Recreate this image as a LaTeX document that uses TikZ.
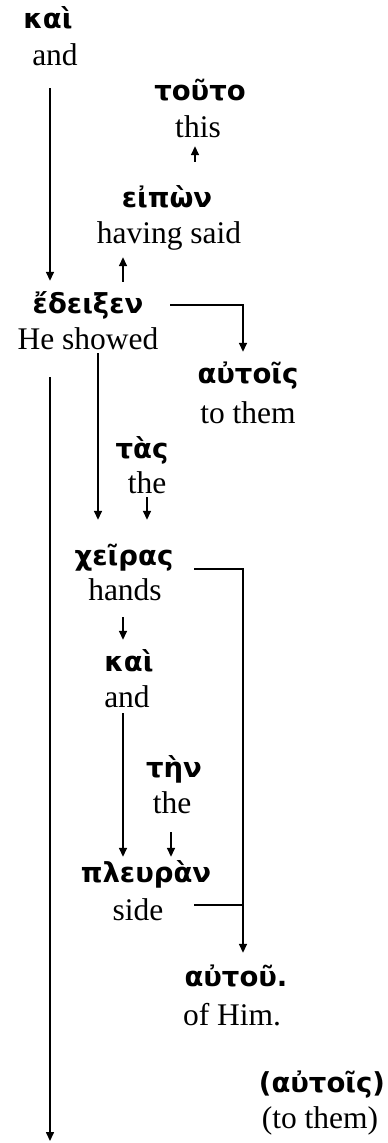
\documentclass[tikz,border=0pt]{standalone}
\usepackage{fontspec}
\setmainfont{Liberation Serif}
\newfontfamily\grk{DejaVu Sans}
\usetikzlibrary{arrows.meta,calc}
\begin{document}
\begin{tikzpicture}[x=1pt,y=-1pt,
  gk/.style={font=\grk\bfseries\fontsize{27.5}{30}\selectfont, inner sep=0pt, text height=22pt, text depth=6pt, anchor=base},
  en/.style={font=\fontsize{31.5}{36}\selectfont, inner sep=0pt, text height=22pt, text depth=3pt, anchor=base},
  ln/.style={line width=1.5pt},
  arr/.style={ln, -{Triangle[length=9pt,width=8pt]}}]
\useasboundingbox (0,0) rectangle (388,1143);
% column positions
\coordinate (x50) at (50,0);
\coordinate (x98) at (98,0);
\coordinate (x123) at (123,0);
\coordinate (x147) at (147,0);
\coordinate (x170) at (170,0);
\coordinate (x171) at (171,0);
\coordinate (x194) at (194,0);
\coordinate (x195) at (195,0);
\coordinate (x243) at (243,0);
% words
\node[gk] (kaiA) at (48,28) {καὶ};
\node[en] (andA) at (55,65) {and};
\node[gk] (touto) at (200,100) {τοῦτο};
\node[en] (this) at (198,137) {this};
\node[gk] (eipon) at (167,207) {εἰπὼν};
\node[en] (having) at (169,243) {having said};
\node[gk] (edeixen) at (88,313) {ἔδειξεν};
\node[en] (showed) at (88,349) {He showed};
\node[gk] (autoisA) at (248,383) {αὐτοῖς};
\node[en] (themA) at (248,423) {to them};
\node[gk] (tas) at (142,458) {τὰς};
\node[en] (theA) at (147,493) {the};
\node[gk] (cheiras) at (124,565) {χεῖρας};
\node[en] (hands) at (125,600) {hands};
\node[gk] (kaiB) at (129,671) {καὶ};
\node[en] (andB) at (127,707) {and};
\node[gk] (ten) at (174,777) {τὴν};
\node[en] (theB) at (172,813) {the};
\node[gk] (pleuran) at (146,882) {πλευρὰν};
\node[en] (side) at (138,920) {side};
\node[gk] (autou) at (236,986) {αὐτοῦ.};
\node[en] (ofhim) at (232,1025) {of Him.};
\node[gk] (autoisB) at (322,1092) {(αὐτοῖς)};
\node[en] (themB) at (320,1128) {(to them)};
\coordinate (bottomend) at (50,1141);
% connectors
\draw[arr, shorten <=20pt, shorten >=10pt] (andA.south -| x50) -- (edeixen.north -| x50);
\draw[arr, shorten <=23pt, shorten >=6pt] (eipon.north -| x195) -- (this.south -| x195);
\draw[arr, shorten <=9pt, shorten >=11pt] (edeixen.north -| x123) -- (having.south -| x123);
\draw[arr, shorten >=9pt] (edeixen.east -| x170) -| (x243 |- autoisA.north);
\draw[arr, shorten <=1pt, shorten >=23pt] (showed.south -| x98) -- (cheiras.north -| x98);
\draw[arr, shorten <=1pt, shorten >=23pt] (theA.south -| x147) -- (cheiras.north -| x147);
\draw[arr, shorten >=11pt] ($(cheiras.base -| x194)+(0,4)$) -| (x243 |- autou.north);
\draw[ln] ($(side.base -| x194)+(0,-15)$) coordinate (s1) -- (s1 -| x243);
\draw[arr, shorten <=14pt, shorten >=9pt] (hands.south -| x123) -- (kaiB.north -| x123);
\draw[arr, shorten <=3pt, shorten >=3pt] (andB.south -| x123) -- (pleuran.north -| x123);
\draw[arr, shorten <=16pt, shorten >=3pt] (theB.south -| x171) -- (pleuran.north -| x171);
\draw[arr, shorten <=25pt] (showed.south -| x50) -- (bottomend);
\end{tikzpicture}
\end{document}
